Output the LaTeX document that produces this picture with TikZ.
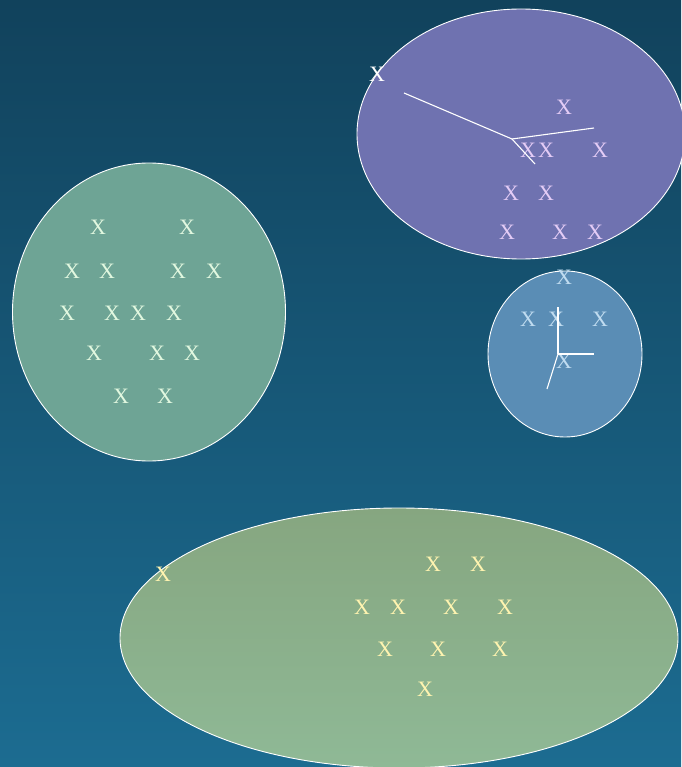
\documentclass[tikz,border=0pt]{standalone}
\usepackage{fontspec}
\setmainfont{Liberation Serif}
\usetikzlibrary{shapes.geometric}
\definecolor{bgtop}{RGB}{17,66,92}
\definecolor{bgbot}{RGB}{28,108,145}
\definecolor{purplefill}{RGB}{111,114,176}
\definecolor{bluefill}{RGB}{90,141,181}
\definecolor{greenfill}{RGB}{110,164,149}
\definecolor{oliveTop}{RGB}{134,166,128}
\definecolor{oliveBot}{RGB}{143,185,150}
\definecolor{xpurple}{RGB}{228,204,246}
\definecolor{xblue}{RGB}{192,220,240}
\definecolor{xgreen}{RGB}{226,248,224}
\definecolor{xyellow}{RGB}{255,244,176}
\tikzset{
  blob/.style={ellipse, draw=white, line width=0.9pt, inner sep=0pt},
  mk/.style={inner sep=0pt, font=\fontsize{22}{22}\selectfont},
  spoke/.style={draw=white, line width=1.1pt},
}
\begin{document}
\begin{tikzpicture}[x=1pt,y=-1pt]
\useasboundingbox (0,0) rectangle (681,767);
\shade[top color=bgtop, bottom color=bgbot] (0,0) rectangle (681,767);
% clusters
\node[blob, fill=purplefill, minimum width=328pt, minimum height=250pt] (cpurple) at (521,134) {};
\node[blob, fill=bluefill, minimum width=154pt, minimum height=166pt] (cblue) at (565,354) {};
\node[blob, fill=greenfill, minimum width=273pt, minimum height=298pt] (cgreen) at (149,312) {};
\node[blob, top color=oliveTop, bottom color=oliveBot, minimum width=558pt, minimum height=260pt] (colive) at (399,638) {};
% purple cluster marks
\node[mk, text=white] (p0) at (377,74) {X};
\node[mk, text=xpurple] (p1) at (564,107) {X};
\node[mk, text=xpurple] (p2) at (528,150) {X};
\node[mk, text=xpurple] (p3) at (546,150) {X};
\node[mk, text=xpurple] (p4) at (600,150) {X};
\node[mk, text=xpurple] (p5) at (511,193) {X};
\node[mk, text=xpurple] (p6) at (546,193) {X};
\node[mk, text=xpurple] (p7) at (507,232) {X};
\node[mk, text=xpurple] (p8) at (560,232) {X};
\node[mk, text=xpurple] (p9) at (595,232) {X};
\coordinate (ph) at (512,139);
\coordinate (pa) at (404,93);
\coordinate (pb) at (594,128);
\coordinate (pc) at (535,164);
\draw[spoke] (pa) -- (ph);
\draw[spoke] (ph) -- (pb);
\draw[spoke] (ph) -- (pc);
% blue cluster marks
\node[mk, text=xblue] (b0) at (564,277) {X};
\node[mk, text=xblue] (b1) at (528,319) {X};
\node[mk, text=xblue] (b2) at (556,319) {X};
\node[mk, text=xblue] (b3) at (600,319) {X};
\node[mk, text=xblue] (b4) at (564,361) {X};
\coordinate (bh) at (558,354);
\coordinate (ba) at (558,307);
\coordinate (bb) at (594,354);
\coordinate (bc) at (547,389);
\draw[spoke] (ba) -- (bh);
\draw[spoke] (bh) -- (bb);
\draw[spoke] (bh) -- (bc);
% green cluster marks
\node[mk, text=xgreen] (g1) at (98,227) {X};
\node[mk, text=xgreen] (g2) at (187,227) {X};
\node[mk, text=xgreen] (g3) at (72,271) {X};
\node[mk, text=xgreen] (g4) at (107,271) {X};
\node[mk, text=xgreen] (g5) at (178,271) {X};
\node[mk, text=xgreen] (g6) at (214,271) {X};
\node[mk, text=xgreen] (g7) at (67,313) {X};
\node[mk, text=xgreen] (g8) at (112,313) {X};
\node[mk, text=xgreen] (g9) at (138,313) {X};
\node[mk, text=xgreen] (g10) at (174,313) {X};
\node[mk, text=xgreen] (g11) at (94,353) {X};
\node[mk, text=xgreen] (g12) at (157,353) {X};
\node[mk, text=xgreen] (g13) at (192,353) {X};
\node[mk, text=xgreen] (g14) at (121,396) {X};
\node[mk, text=xgreen] (g15) at (165,396) {X};
% olive cluster marks
\node[mk, text=xyellow] (o0) at (163,574) {X};
\node[mk, text=xyellow] (o1) at (433,564) {X};
\node[mk, text=xyellow] (o2) at (478,564) {X};
\node[mk, text=xyellow] (o3) at (362,607) {X};
\node[mk, text=xyellow] (o4) at (398,607) {X};
\node[mk, text=xyellow] (o5) at (451,607) {X};
\node[mk, text=xyellow] (o6) at (505,607) {X};
\node[mk, text=xyellow] (o7) at (385,649) {X};
\node[mk, text=xyellow] (o8) at (438,649) {X};
\node[mk, text=xyellow] (o9) at (500,649) {X};
\node[mk, text=xyellow] (o10) at (425,689) {X};
\end{tikzpicture}
\end{document}
